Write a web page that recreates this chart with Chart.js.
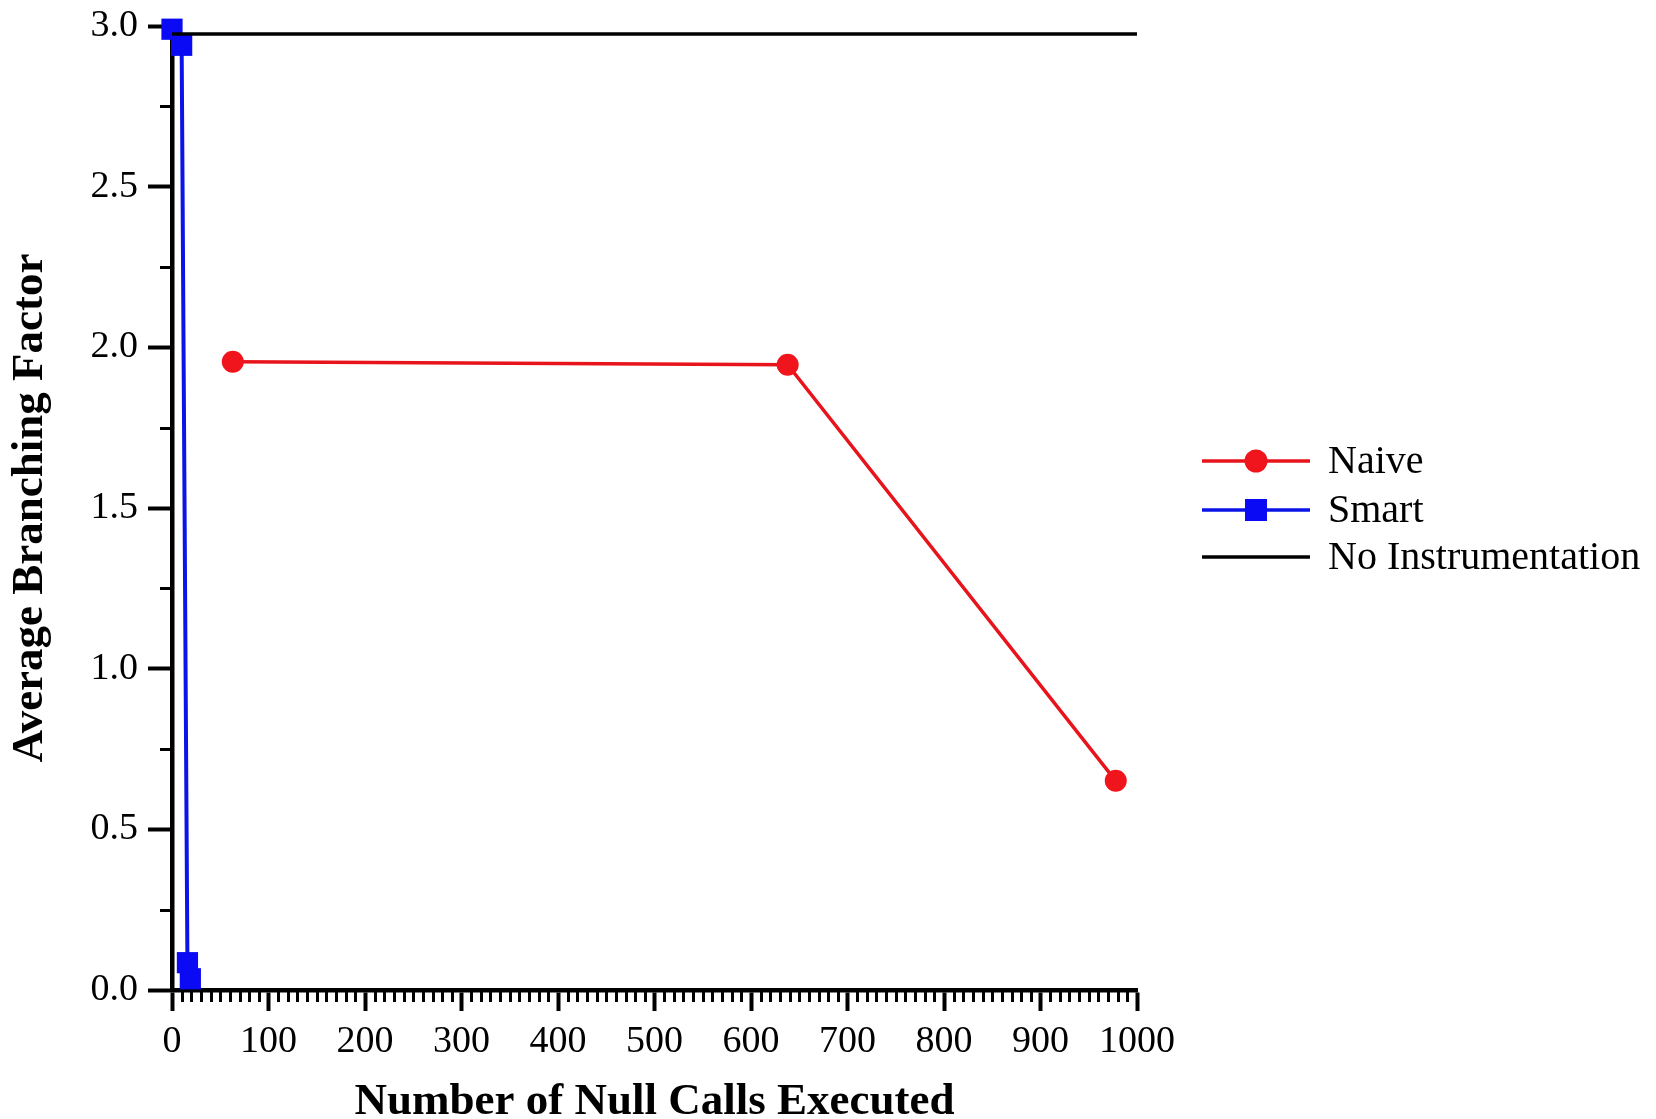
<!DOCTYPE html>
<html lang="en">
<head>
    <meta charset="UTF-8">
    <title>Average Branching Factor</title>
    <script src="https://cdn.jsdelivr.net/npm/chart.js"></script>
    <style>
        body {
            margin: 0;
            background-color: #ffffff;
        }
        .chart-box {
            width: 1656px;
            height: 1119px;
        }
    </style>
</head>
<body>
    <div class="chart-box">
        <canvas id="branchChart" width="1656" height="1119"></canvas>
    </div>

    <script>
        // Measured data
        const naiveCalls = [63, 638, 978];
        const naiveFactor = [1.955, 1.946, 0.651];

        const smartCalls = [0, 10, 16, 19];
        const smartFactor = [2.99, 2.94, 0.085, 0.035];

        const baseCalls = [0, 1000];
        const baseFactor = [2.975, 2.975];

        const seriesNames = ['Naive', 'Smart', 'No Instrumentation'];

        // Axis ranges and tick steps
        const xMin = 0, xMax = 1000, xMajor = 100, xMinor = 10;
        const yMin = 0, yMax = 3.0, yMajor = 0.5, yMinor = 0.25;

        const serif = '"Liberation Serif", "Times New Roman", serif';

        function toPoints(xs, ys) {
            return xs.map((x, i) => ({ x: x, y: ys[i] }));
        }

        // Small tick marks between the labelled ones
        const minorTicks = {
            id: 'minorTicks',
            afterDraw(chart) {
                const ctx = chart.ctx;
                const x = chart.scales.x;
                const y = chart.scales.y;
                ctx.save();
                ctx.strokeStyle = '#000';
                ctx.lineWidth = 3;
                ctx.beginPath();
                for (let v = xMin; v <= xMax; v += xMinor) {
                    if (v % xMajor === 0) continue;
                    const px = Math.round(x.getPixelForValue(v)) + 0.5;
                    ctx.moveTo(px, y.bottom);
                    ctx.lineTo(px, y.bottom + 12);
                }
                for (let v = yMin + yMinor; v < yMax; v += 2 * yMinor) {
                    const py = Math.round(y.getPixelForValue(v)) + 0.5;
                    ctx.moveTo(x.left, py);
                    ctx.lineTo(x.left - 12, py);
                }
                ctx.stroke();
                ctx.restore();
            }
        };

        // Legend on the right: line sample with its marker, then the name
        const sideLegend = {
            id: 'sideLegend',
            afterDraw(chart) {
                const ctx = chart.ctx;
                const x0 = chart.chartArea.right + 65;
                const lineLen = 108;
                const rowY = [461, 510, 557];
                ctx.save();
                ctx.font = '40px ' + serif;
                ctx.textBaseline = 'middle';
                seriesNames.forEach((name, i) => {
                    const ds = chart.data.datasets.find(d => d.label === name);
                    const cy = rowY[i];
                    ctx.strokeStyle = ds.borderColor;
                    ctx.lineWidth = 3.5;
                    ctx.beginPath();
                    ctx.moveTo(x0, cy);
                    ctx.lineTo(x0 + lineLen, cy);
                    ctx.stroke();
                    if (ds.pointRadius > 0) {
                        ctx.fillStyle = ds.pointBackgroundColor;
                        ctx.beginPath();
                        if (ds.pointStyle === 'rect') {
                            ctx.rect(x0 + lineLen / 2 - 11, cy - 11, 22, 22);
                        } else {
                            ctx.arc(x0 + lineLen / 2, cy, 11.5, 0, Math.PI * 2);
                        }
                        ctx.fill();
                    }
                    ctx.fillStyle = '#000';
                    ctx.fillText(name, x0 + lineLen + 18, cy + 1);
                });
                ctx.restore();
            }
        };

        const ctx = document.getElementById('branchChart').getContext('2d');
        new Chart(ctx, {
            type: 'line',
            data: {
                datasets: [
                    {
                        label: 'No Instrumentation',
                        data: toPoints(baseCalls, baseFactor),
                        borderColor: '#000000',
                        borderWidth: 3.5,
                        pointRadius: 0,
                        order: 0
                    },
                    {
                        label: 'Naive',
                        data: toPoints(naiveCalls, naiveFactor),
                        borderColor: '#e8141c',
                        backgroundColor: '#f0141c',
                        pointBackgroundColor: '#f0141c',
                        pointBorderWidth: 0,
                        borderWidth: 3.5,
                        pointStyle: 'circle',
                        pointRadius: 11,
                        order: 1
                    },
                    {
                        label: 'Smart',
                        data: toPoints(smartCalls, smartFactor),
                        borderColor: '#0a14e6',
                        backgroundColor: '#0a0af5',
                        pointBackgroundColor: '#0a0af5',
                        pointBorderWidth: 0,
                        borderWidth: 4,
                        pointStyle: 'rect',
                        pointRadius: 15,
                        order: 2
                    }
                ]
            },
            options: {
                responsive: false,
                animation: false,
                clip: false,
                layout: {
                    padding: { left: 0, top: 26, right: 519, bottom: 0 }
                },
                plugins: {
                    legend: { display: false },
                    tooltip: { enabled: false }
                },
                scales: {
                    x: {
                        type: 'linear',
                        min: xMin,
                        max: xMax,
                        afterFit: s => { s.height = 129; },
                        border: { color: '#000', width: 4.5 },
                        grid: {
                            drawOnChartArea: false,
                            tickLength: 21,
                            tickWidth: 4,
                            tickColor: '#000'
                        },
                        ticks: {
                            stepSize: xMajor,
                            color: '#000',
                            padding: 8,
                            maxRotation: 0,
                            callback: v => String(v),
                            font: { family: serif, size: 38 }
                        },
                        title: {
                            display: true,
                            text: 'Number of Null Calls Executed',
                            color: '#000',
                            padding: { top: 0, bottom: -6 },
                            font: { family: serif, size: 45, weight: 'bold', lineHeight: 1 }
                        }
                    },
                    y: {
                        min: yMin,
                        max: yMax,
                        afterFit: s => {
                            s.width = 172;
                            s.paddingTop = 0;
                            s.paddingBottom = 0;
                        },
                        border: { color: '#000', width: 4.5 },
                        grid: {
                            drawOnChartArea: false,
                            tickLength: 24,
                            tickWidth: 4,
                            tickColor: '#000'
                        },
                        ticks: {
                            stepSize: yMajor,
                            color: '#000',
                            padding: 10,
                            callback: v => v.toFixed(1),
                            font: { family: serif, size: 38 }
                        },
                        title: {
                            display: true,
                            text: 'Average Branching Factor',
                            color: '#000',
                            padding: { top: 8, bottom: 0 },
                            font: { family: serif, size: 45, weight: 'bold', lineHeight: 1 }
                        }
                    }
                }
            },
            plugins: [minorTicks, sideLegend]
        });
    </script>
</body>
</html>
